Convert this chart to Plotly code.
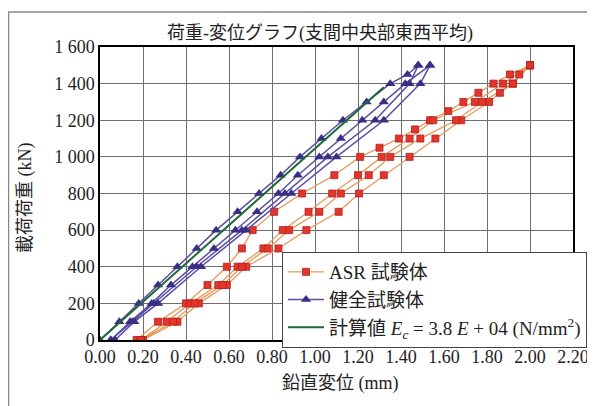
import plotly.graph_objects as go

# ---------------- data ----------------
# ASR specimen: two load/unload cycles (displacement mm, load kN)
asr_load_1 = [0, 100, 200, 300, 400, 500, 600, 700, 800, 900, 1000, 1050, 1100, 1150, 1200, 1250, 1300, 1350, 1400, 1450, 1500]
asr_disp_1 = [0.17, 0.27, 0.40, 0.50, 0.59, 0.66, 0.71, 0.81, 0.94, 1.09, 1.21, 1.30, 1.39, 1.465, 1.535, 1.62, 1.69, 1.76, 1.83, 1.907, 2.00]
asr_load_2 = [1500, 1450, 1400, 1350, 1300, 1200, 1100, 1000, 900, 800, 700, 600, 500, 400, 300, 200, 100, 0]
asr_disp_2 = [2.00, 1.95, 1.92, 1.86, 1.81, 1.68, 1.56, 1.44, 1.32, 1.205, 1.11, 0.96, 0.83, 0.68, 0.59, 0.46, 0.36, 0.20]
asr_load_3 = [0, 100, 200, 300, 400, 500, 600, 700, 800, 900, 1000, 1100, 1200, 1300, 1400, 1500]
asr_disp_3 = [0.19, 0.31, 0.42, 0.55, 0.64, 0.76, 0.85, 0.97, 1.08, 1.20, 1.31, 1.44, 1.55, 1.744, 1.875, 2.00]
asr_load_4 = [1500, 1400, 1300, 1200, 1100, 1000, 900, 800, 700, 600, 500, 400, 300, 200, 100, 0]
asr_disp_4 = [2.00, 1.92, 1.777, 1.656, 1.49, 1.35, 1.25, 1.12, 1.02, 0.88, 0.78, 0.66, 0.57, 0.44, 0.34, 0.19]

# Sound specimen: two load/unload cycles
snd_load_1 = [0, 100, 200, 300, 400, 500, 600, 700, 800, 900, 1000, 1100, 1200, 1300, 1400, 1450, 1500]
snd_disp_1 = [0.00, 0.09, 0.18, 0.27, 0.36, 0.45, 0.54, 0.64, 0.74, 0.84, 0.93, 1.03, 1.13, 1.24, 1.35, 1.43, 1.48]
snd_load_2 = [1500, 1400, 1200, 1000, 800, 600, 400, 200, 100, 0]
snd_disp_2 = [1.48, 1.44, 1.28, 1.06, 0.86, 0.66, 0.45, 0.25, 0.15, 0.05]
snd_load_3 = [0, 100, 200, 300, 400, 500, 600, 700, 800, 900, 1000, 1100, 1200, 1300, 1400, 1500]
snd_disp_3 = [0.05, 0.14, 0.24, 0.33, 0.43, 0.53, 0.63, 0.73, 0.83, 0.92, 1.02, 1.12, 1.22, 1.32, 1.42, 1.535]
snd_load_4 = [1500, 1400, 1200, 1000, 800, 600, 400, 200, 100, 0]
snd_disp_4 = [1.535, 1.49, 1.32, 1.10, 0.89, 0.68, 0.47, 0.27, 0.16, 0.07]

# Calculated line (Ec = 3.8E+04 N/mm2)
calc_disp = [0.00, 1.32]
calc_load = [0, 1380]

x_tickvals = [0, 0.2, 0.4, 0.6, 0.8, 1.0, 1.2, 1.4, 1.6, 1.8, 2.0, 2.2]
x_ticktext = ["0.00", "0.20", "0.40", "0.60", "0.80", "1.00", "1.20", "1.40", "1.60", "1.80", "2.00", "2.20"]
y_tickvals = [0, 200, 400, 600, 800, 1000, 1200, 1400, 1600]
y_ticktext = ["0", "200", "400", "600", "800", "1 000", "1 200", "1 400", "1 600"]

asr_x = asr_disp_1 + asr_disp_2 + asr_disp_3 + asr_disp_4
asr_y = asr_load_1 + asr_load_2 + asr_load_3 + asr_load_4
snd_x = snd_disp_1 + snd_disp_2 + snd_disp_3 + snd_disp_4
snd_y = snd_load_1 + snd_load_2 + snd_load_3 + snd_load_4

FONT = "'Liberation Serif', 'Times New Roman', 'Noto Sans CJK JP', serif"

fig = go.Figure()
fig.add_trace(go.Scatter(
    x=asr_x, y=asr_y, mode="lines+markers", name="ASR 試験体",
    line=dict(color="#E59A5C", width=1.3),
    marker=dict(symbol="square", size=7, color="#E2362B", line=dict(color="#B41E1E", width=0.8)),
))
fig.add_trace(go.Scatter(
    x=snd_x, y=snd_y, mode="lines+markers", name="健全試験体",
    line=dict(color="#5A4FA5", width=1.5),
    marker=dict(symbol="triangle-up", size=9, color="#3A2F86", line=dict(width=0)),
))
fig.add_trace(go.Scatter(
    x=calc_disp, y=calc_load, mode="lines",
    name="計算値 <i>E<sub>c</sub></i> = 3.8 <i>E</i> + 04 (N/mm<sup>2</sup>)",
    line=dict(color="#1E6A35", width=2),
))

# page body adds an 8px offset; positions below are in screenshot pixels
OFF = 8
W, H = 595, 406
PL, PR, PT, PB = 100, 573, 47, 340  # plot area edges in screenshot pixels
L = PL - OFF
T = PT - OFF
R = W - (PR - OFF)
B = H - (PB - OFF)
pw, ph = PR - PL, PB - PT

def px(xp):
    return (xp - PL) / pw

def py(yp):
    return (PB - yp) / ph

fig.update_layout(
    width=W, height=H,
    margin=dict(l=L, r=R, t=T, b=B, autoexpand=False),
    paper_bgcolor="white", plot_bgcolor="white",
    font=dict(family=FONT, size=18, color="#222222"),
    title=dict(text="荷重-変位グラフ(支間中央部東西平均)", x=(320 - OFF) / W, xanchor="center",
               y=1 - (33 - OFF) / H, yanchor="middle", font=dict(size=18, family=FONT)),
    xaxis=dict(range=[0, 2.2], tickvals=x_tickvals, ticktext=x_ticktext,
               showgrid=True, gridcolor="#6e6e6e", gridwidth=1,
               showline=True, linecolor="black", linewidth=1.5, mirror=True,
               zeroline=False, ticks="", automargin=False,
               tickfont=dict(size=18, family=FONT)),
    yaxis=dict(range=[0, 1600], tickvals=y_tickvals, ticktext=y_ticktext,
               showgrid=True, gridcolor="#6e6e6e", gridwidth=1,
               showline=True, linecolor="black", linewidth=1.5, mirror=True,
               zeroline=False, ticks="", automargin=False,
               tickfont=dict(size=18, family=FONT)),
    legend=dict(x=px(282), y=py(252), xanchor="left", yanchor="top",
                bgcolor="white", bordercolor="#444444", borderwidth=1,
                font=dict(size=19, family=FONT), tracegroupgap=0,
                itemwidth=36),
    showlegend=True,
    shapes=[dict(type="rect", xref="paper", yref="paper",
                 x0=px(8.5), x1=px(620), y0=py(430), y1=py(12),
                 line=dict(color="#888888", width=1.5), layer="below")],
    annotations=[
        dict(text="鉛直変位 (mm)", xref="paper", yref="paper", x=px(340), y=py(383),
             xanchor="center", yanchor="middle", showarrow=False, font=dict(size=18, family=FONT)),
        dict(text="載荷荷重 (kN)", xref="paper", yref="paper", x=px(25), y=py(198),
             xanchor="center", yanchor="middle", showarrow=False, textangle=-90,
             font=dict(size=18, family=FONT)),
    ],
)

fig.write_html("out.html")
